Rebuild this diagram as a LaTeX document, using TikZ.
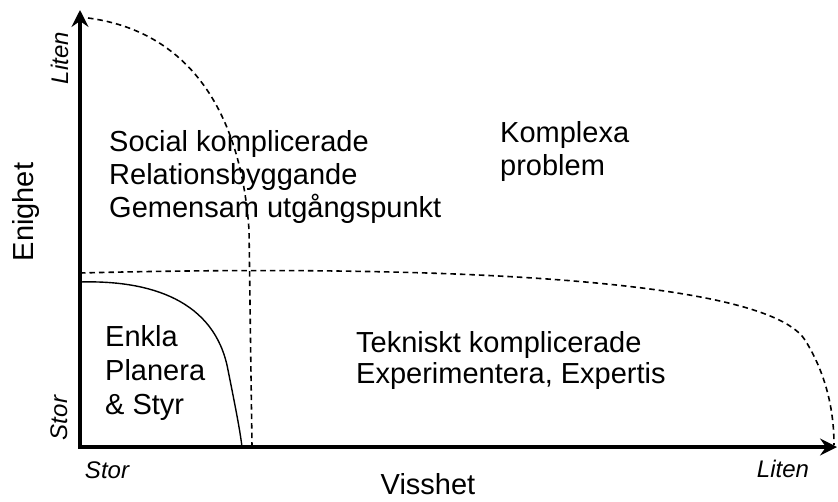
\documentclass[tikz,border=0pt]{standalone}
\usepackage{fontspec}
\setmainfont{Liberation Sans}
\usetikzlibrary{arrows.meta}

\begin{document}
\begin{tikzpicture}[x=1pt, y=-1pt,
    axis/.style={line width=4pt, -{Stealth[length=17pt, width=17pt, inset=6pt]}},
    border/.style={line width=1.6pt, dash pattern=on 5.5pt off 4pt},
    simple/.style={line width=1.4pt},
    zone/.style={anchor=base west, align=left, inner sep=0pt, font=\fontsize{29}{33}\selectfont},
    axisname/.style={anchor=base, inner sep=0pt, font=\fontsize{29}{33}\selectfont},
    endlabel/.style={anchor=base, inner sep=0pt, font=\fontsize{24}{28}\selectfont\itshape}]
\useasboundingbox (0,0) rectangle (838,501);

% axes
\coordinate (origin) at (80,447);
\coordinate (ytop) at (80,10);
\coordinate (xend) at (837,447);
\draw[axis] ([xshift=-2pt]origin) -- (xend);
\draw[axis] ([yshift=2pt]origin) -- (ytop);

% dashed borders
\draw[border] (88,18) .. controls (180,30) and (240,100) .. (249,230) -- (252,447);
\draw[border] (80,273) .. controls (350,266) and (760,270) .. (805,340)
    .. controls (830,380) and (834,420) .. (834,445);
% simple zone
\draw[simple] (80,282) .. controls (150,280) and (215,300) .. (228,370)
    .. controls (235,405) and (240,430) .. (242,447);

% zone texts (anchored at the last line)
\node[zone] (social) at (109,217) {Social komplicerade\\Relationsbyggande\\Gemensam utgångspunkt};
\node[zone] (complex) at (500,175) {Komplexa\\problem};
\node[zone, font=\fontsize{29}{34}\selectfont] (simpletext) at (105,414) {Enkla\\Planera\\\& Styr};
\node[zone, font=\fontsize{29}{31}\selectfont] (technical) at (356,383) {Tekniskt komplicerade\\Experimentera, Expertis};

% axis labels
\node[axisname, rotate=90] (yname) at (33,212) {Enighet};
\node[axisname] (xname) at (428,494) {Visshet};
\node[endlabel, rotate=90] (ylow) at (68,58) {Liten};
\node[endlabel, rotate=90] (yhigh) at (67,418) {Stor};
\node[endlabel] (xhigh) at (107,478) {Stor};
\node[endlabel] (xlow) at (783,477) {Liten};
\end{tikzpicture}
\end{document}
